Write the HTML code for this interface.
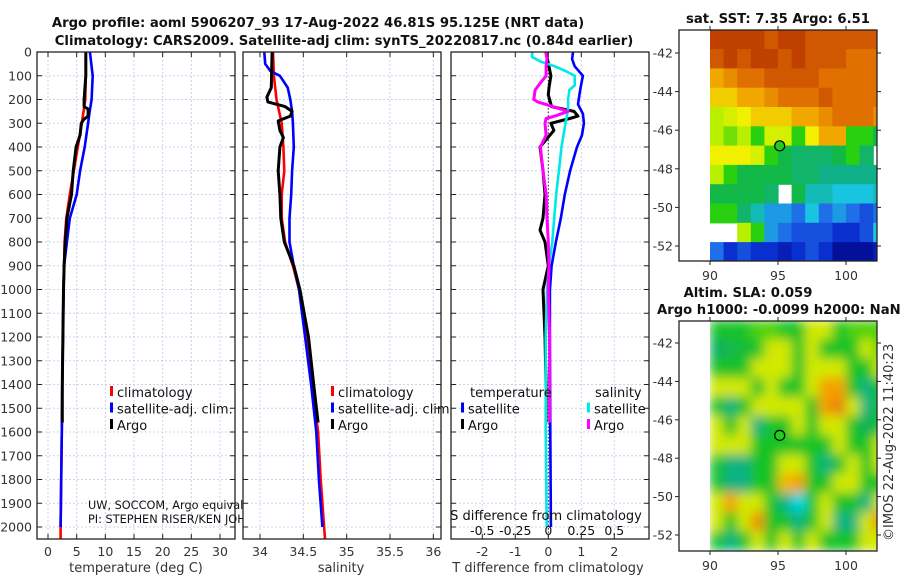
<!DOCTYPE html>
<html><head><meta charset="utf-8">
<style>
html,body{margin:0;padding:0;background:#fff;}
svg{display:block;font-family:"DejaVu Sans","Liberation Sans",sans-serif;}
</style></head>
<body>
<svg id="chart" width="900" height="580" viewBox="0 0 900 580" xmlns="http://www.w3.org/2000/svg">
<defs>
<filter id="blur" x="0" y="0" width="1" height="1"><feGaussianBlur stdDeviation="5.5" edgeMode="duplicate"/></filter>
<clipPath id="clipSST"><rect x="710" y="30" width="167" height="231"/></clipPath>
<clipPath id="clipSLA"><rect x="710" y="321" width="167" height="230"/></clipPath>
<clipPath id="clipP1"><rect x="37" y="52" width="198" height="487"/></clipPath>
<clipPath id="clipP2"><rect x="243" y="52" width="198" height="487"/></clipPath>
<clipPath id="clipP3"><rect x="451" y="52" width="198" height="487"/></clipPath>
</defs>
<text x="318" y="27" text-anchor="middle" font-size="13.2" font-weight="bold" fill="#111">Argo profile: aoml 5906207_93 17-Aug-2022 46.81S 95.125E (NRT data)</text>
<text x="344" y="45" text-anchor="middle" font-size="13.2" font-weight="bold" fill="#111">Climatology: CARS2009. Satellite-adj clim: synTS_20220817.nc (0.84d earlier)</text>
<g id="layer"></g>
</svg>
<script>
// ---------- data ----------
const depthClimT = [0,100,200,300,400,500,600,700,800,900,1000,1200,1400,1600,1800,2000,2050];
const tempClim   = [6.6,6.6,6.5,5.9,5.2,4.5,3.8,3.2,2.9,2.8,2.7,2.6,2.5,2.4,2.3,2.2,2.2];
const depthSatT  = [0,100,200,260,300,400,500,600,700,800,900,1000,1200,1400,1600,1800,2000];
const tempSat    = [7.3,7.8,7.6,7.2,7.0,6.4,5.6,5.0,3.8,3.3,2.8,2.7,2.6,2.5,2.4,2.3,2.2];
const depthArgo  = [0,100,200,230,240,270,285,300,350,400,500,600,700,800,900,1000,1200,1400,1560];
const tempArgo   = [6.6,6.6,6.3,6.3,7.0,7.0,6.2,5.8,5.6,4.9,4.4,4.1,3.3,3.0,2.8,2.7,2.6,2.5,2.5];

const salClim    = [34.15,34.16,34.19,34.25,34.27,34.28,34.25,34.25,34.29,34.38,34.45,34.54,34.6,34.67,34.7,34.74,34.75];
const depthSatS  = [0,50,80,100,150,200,250,300,400,500,600,700,800,900,1000,1200,1400,1600,1800,2000];
const salSat     = [34.05,34.06,34.12,34.23,34.32,34.35,34.37,34.38,34.39,34.37,34.36,34.34,34.34,34.39,34.45,34.52,34.59,34.65,34.68,34.72];
const depthArgoS = [0,150,190,210,230,250,270,290,330,360,400,500,600,700,800,900,1000,1200,1400,1560];
const salArgo    = [34.14,34.13,34.08,34.09,34.29,34.37,34.35,34.21,34.23,34.27,34.23,34.21,34.23,34.24,34.28,34.39,34.46,34.56,34.62,34.67];

const depthDiff  = [0,30,60,100,150,200,220,260,300,350,400,500,600,700,800,900,1000,1200,1600,2000];
const dTSat      = [0.75,0.72,0.8,1.05,0.98,0.92,0.9,1.05,1.08,1.02,0.87,0.66,0.5,0.38,0.23,0.1,0.05,0.05,0.06,0.08];
const depthDTA   = [0,100,150,180,230,250,270,280,300,330,400,500,600,700,750,800,900,1000,1200,1400,1560];
const dTArgo     = [-0.07,0.08,0.02,0,0.1,0.78,0.9,0.65,0.08,0.17,-0.25,-0.16,-0.1,-0.16,-0.25,-0.1,0,-0.16,-0.1,-0.07,-0.07];
const depthDSS   = [0,20,40,60,80,100,140,160,200,240,300,400,500,600,700,800,900,1000,1200,1600,2000];
const dSSat      = [-0.12,-0.125,-0.06,0.05,0.13,0.2,0.2,0.16,0.15,0.15,0.13,0.1,0.08,0.06,0.045,0.03,0.005,-0.01,-0.02,-0.02,-0.012];
const depthDSA   = [0,30,60,100,130,160,200,210,230,250,270,280,300,350,400,500,600,700,800,900,1000,1200,1560];
const dSArgo     = [-0.02,-0.01,-0.017,-0.017,-0.06,-0.1,-0.11,-0.08,0.035,0.15,0.05,-0.017,-0.025,-0.017,-0.06,-0.04,-0.017,-0.01,0,0.005,0,0.01,0.01];

const depthTicks = [0,100,200,300,400,500,600,700,800,900,1000,1100,1200,1300,1400,1500,1600,1700,1800,1900,2000];
const tempTicks  = [0,5,10,15,20,25,30];
const salTicks   = [34,34.5,35,35.5,36];
const salTickLabels = ["34","34.5","35","35.5","36"];
const dTTicks    = [-2,-1,0,1,2];
const dSTicks    = [-0.5,-0.25,0,0.25,0.5];
const dSTickLabels = ["-0.5","-0.25","0","0.25","0.5"];
const lonTicks   = [90,95,100];
const latTicks   = [-42,-44,-46,-48,-50,-52];

const argoLon = 95.125, argoLat = -46.81;
const gridLon0 = 90, gridLat0 = -40.8;
const sstGrid = [
 [11,11,11,11,10.5,11,11,10.5,10.5,10.5,10.5,10.5,10.5],
 [10.5,11,10.5,11,11,10.5,11,10.5,10.5,10.5,10,10,10],
 [9,9.5,10,10,10.5,10.5,10.5,10.5,10,10,10,10,10],
 [8.5,8.5,9,9,9.5,10,10,10,10.5,10,10,10,10],
 [7,7.5,8,8.5,8.5,8.5,9,9,9.5,10,10,10,9.5],
 [7,6.5,7,6,7.5,7.5,6,8,9,9,6,6,5.5],
 [8,8,8,7.5,6,5.5,5,5,5,5.5,6,5,null],
 [7,6,5.5,5.5,5.5,5.5,5,5,4.5,4.5,4.5,4.5,4.5],
 [5.5,5.5,5.5,5.5,5,null,5.5,4,4,3.5,3.5,3.5,4],
 [6,6,5,4,3,3,2.5,3.5,2.5,3,2.5,2,2.5],
 [null,null,7,6,3,2.5,2,2,2,1.5,1.5,2,3.5],
 [2.5,1.5,2,1.5,1.5,1,1.5,2,1.5,0.5,0.5,0.5,1]
];
const slaGrid = [
 [-0.6,-0.6,-0.6,0,0,-0.6,-0.6,0.8,0.8,-0.6,0,0,0],
 [-1.2,-1,-0.8,-0.6,0.8,0.8,-0.6,0.8,-0.6,-0.6,-0.6,0.8,0],
 [-0.6,-0.6,-0.6,0.8,0.8,0.8,-0.6,0.8,0.8,0.8,-0.6,-0.6,0.8],
 [0.8,0.8,0.8,-0.6,0.8,-0.6,-0.6,0.8,1.6,1.6,-0.6,-1.5,-0.6],
 [-0.6,-1.5,-0.6,0.8,0.8,0.8,0.8,-0.6,1.6,2,0.8,-1.5,-0.6],
 [0.8,-0.6,0.8,-1.5,-0.6,-0.6,0.8,-0.6,0.8,0.8,-0.6,-1.2,-0.6],
 [0.8,0.8,0.8,-0.6,-0.6,-0.6,-0.6,-0.6,-0.6,0.8,-0.6,-0.6,0.8],
 [-0.6,-1.5,-1.5,-0.6,-0.6,0.8,0.8,-0.6,-1.5,-0.6,0.8,-0.6,0.8],
 [-0.6,-1.5,-1.5,-0.6,-0.6,1.4,1.6,-0.6,-0.6,0.8,0.8,-0.6,-0.6],
 [0.8,1.6,0.8,0.8,-0.6,-1.5,-2,-0.6,0.8,-0.6,-0.6,-1.5,0.8],
 [0.8,-0.6,0.8,1.8,-0.6,-0.6,-1.5,-0.6,0.8,-1.5,-1.5,0.8,1.8],
 [-0.6,-1.5,-0.6,0.8,-0.6,0.8,-0.6,0.8,-0.6,-0.6,-0.6,0.8,0.8]
];

// ---------- helpers ----------
const NS = "http://www.w3.org/2000/svg";
const layer = document.getElementById('layer');
function mk(tag, attrs, parent){
  const e = document.createElementNS(NS, tag);
  for (const k in attrs) e.setAttribute(k, attrs[k]);
  (parent||layer).appendChild(e);
  return e;
}
const Y0 = 52, KY = 0.2375;
function yDepth(d){ return Y0 + KY*d; }
const xTemp = v => 48 + 5.733*v;
const xSal  = v => 260 + 86.67*(v-34);
const xDT   = v => 548.3 + 33*v;
const xDS   = v => 548.3 + 132*v;
const xLon  = v => 710 + 13.6*(v-90);
const ySST  = v => 53 + 19.3*(-42 - v);
const ySLA  = v => 343 + 19.2*(-42 - v);

function interp(stops, v){
  if (v<=stops[0][0]) return 'rgb('+stops[0][1].join(',')+')';
  for (let i=1;i<stops.length;i++){
    if (v<=stops[i][0]){
      const [a,ca]=stops[i-1],[b,cb]=stops[i]; const t=(v-a)/(b-a);
      return 'rgb('+[0,1,2].map(j=>Math.round(ca[j]+(cb[j]-ca[j])*t)).join(',')+')';
    }
  }
  const c=stops[stops.length-1][1]; return 'rgb('+c.join(',')+')';
}
const sstStops=[[0,[0,0,127]],[1.5,[10,47,208]],[2.5,[31,111,232]],[3.5,[25,196,224]],[4.5,[15,176,138]],[5.5,[18,184,72]],[6,[40,208,16]],[7,[184,240,0]],[8,[240,240,0]],[9,[240,168,0]],[10,[224,112,0]],[11,[192,64,0]]];
const slaStops=[[-2,[0,215,230]],[-1.4,[10,170,110]],[-0.6,[25,195,40]],[0,[80,210,10]],[0.5,[170,230,0]],[1.0,[235,235,0]],[1.6,[245,160,0]],[2.2,[225,110,10]]];

// ---------- profile panels ----------
function panel(x0, name){
  const g = mk('g',{});
  
  
  mk('rect',{x:x0,y:52,width:198,height:487,fill:'#fff'},g);
  return g;
}
function hgrid(g,x0){
  depthTicks.forEach(d=>{
    const l=mk('line',{x1:x0,x2:x0+198,y1:yDepth(d),y2:yDepth(d),stroke:'#cdd0f0','stroke-width':1,'stroke-dasharray':'2,2'},g);
    
    
  });
}
function vgrid(g,ticks,fx){
  ticks.forEach(t=>{
    const l=mk('line',{x1:fx(t),x2:fx(t),y1:52,y2:539,stroke:'#cdd0f0','stroke-width':1,'stroke-dasharray':'2,2'},g);
    
    
  });
}
function frame(g,x0){
  const r=mk('rect',{x:x0,y:52,width:198,height:487,fill:'none',stroke:'#222','stroke-width':1.3},g);
  
  
  depthTicks.forEach(d=>{
    mk('line',{x1:x0,x2:x0+5,y1:yDepth(d),y2:yDepth(d),stroke:'#222'},g);
    mk('line',{x1:x0+198-5,x2:x0+198,y1:yDepth(d),y2:yDepth(d),stroke:'#222'},g);
  });
}
function xticks(g,ticks,labels,fx){
  ticks.forEach((t,i)=>{
    mk('line',{x1:fx(t),x2:fx(t),y1:539,y2:534,stroke:'#222'},g);
    mk('line',{x1:fx(t),x2:fx(t),y1:52,y2:57,stroke:'#222'},g);
    const tx=mk('text',{x:fx(t),y:556,'text-anchor':'middle','font-size':12.5,fill:'#333'},g);
    tx.textContent=labels[i];
    
    
  });
}
function line(g,ds,vs,fx,color,w,name,clip){
  const pts=ds.map((d,i)=>fx(vs[i]).toFixed(1)+','+yDepth(d).toFixed(1)).join(' ');
  const p=mk('polyline',{points:pts,fill:'none',stroke:color,'stroke-width':w,'stroke-linejoin':'round','clip-path':'url(#'+clip+')'},g);
  
  
}
function legend(g,x,y,items){
  items.forEach((it,i)=>{
    mk('rect',{x:x,y:y+i*16.5-11,width:3,height:10,fill:it[1]},g);
    const t=mk('text',{x:x+7,y:y+i*16.5,'font-size':13,fill:'#111'},g);
    t.textContent=it[0];
    
    
  });
}

// Panel 1 temperature
const g1=panel(37,'temperature-panel');
hgrid(g1,37); vgrid(g1,tempTicks,xTemp);
line(g1,depthClimT,tempClim,xTemp,'#ff0000',2.6,'temp-climatology-line','clipP1');
line(g1,depthSatT,tempSat,xTemp,'#0000ff',2.6,'temp-satellite-line','clipP1');
line(g1,depthArgo,tempArgo,xTemp,'#000',3,'temp-argo-line','clipP1');
legend(g1,110,397,[['climatology','#ff0000'],['satellite-adj. clim.','#0000ff'],['Argo','#000']]);
{const t=mk('text',{x:88,y:509,'font-size':11.3,fill:'#111'},g1);t.textContent='UW, SOCCOM, Argo equivalent';

const t2=mk('text',{x:88,y:523,'font-size':11.3,fill:'#111'},g1);t2.textContent='PI: STEPHEN RISER/KEN JOHNSON';
}
frame(g1,37);
xticks(g1,tempTicks,tempTicks.map(String),xTemp);
depthTicks.forEach(d=>{const t=mk('text',{x:32,y:yDepth(d)+4.5,'text-anchor':'end','font-size':12.5,fill:'#333'},g1);t.textContent=d;
});
{const t=mk('text',{x:136,y:572,'text-anchor':'middle','font-size':13,fill:'#333'},g1);t.textContent='temperature (deg C)';
}

// Panel 2 salinity
const g2=panel(243,'salinity-panel');
hgrid(g2,243); vgrid(g2,salTicks,xSal);
line(g2,depthClimT,salClim,xSal,'#ff0000',2.6,'sal-climatology-line','clipP2');
line(g2,depthSatS,salSat,xSal,'#0000ff',2.6,'sal-satellite-line','clipP2');
line(g2,depthArgoS,salArgo,xSal,'#000',3,'sal-argo-line','clipP2');
legend(g2,331,397,[['climatology','#ff0000'],['satellite-adj. clim.','#0000ff'],['Argo','#000']]);
frame(g2,243);
xticks(g2,salTicks,salTickLabels,xSal);
{const t=mk('text',{x:341,y:572,'text-anchor':'middle','font-size':13,fill:'#333'},g2);t.textContent='salinity';
}

// Panel 3 differences
const g3=panel(451,'difference-panel');
hgrid(g3,451); vgrid(g3,dTTicks,xDT);
mk('line',{x1:xDT(0),x2:xDT(0),y1:52,y2:539,stroke:'#333','stroke-width':1,'stroke-dasharray':'1.5,2'},g3);
line(g3,depthDiff,dTSat,xDT,'#0000ff',2.6,'dtemp-satellite-line','clipP3');
line(g3,depthDTA,dTArgo,xDT,'#000',3,'dtemp-argo-line','clipP3');
line(g3,depthDSS,dSSat,xDS,'#00e8e8',2.6,'dsal-satellite-line','clipP3');
line(g3,depthDSA,dSArgo,xDS,'#ff00ff',3,'dsal-argo-line','clipP3');
{const t=mk('text',{x:470,y:397,'font-size':13,fill:'#111'},g3);t.textContent='temperature';

const t2=mk('text',{x:595,y:397,'font-size':13,fill:'#111'},g3);t2.textContent='salinity';
}
legend(g3,461,413.5,[['satellite','#0000ff'],['Argo','#000']]);
legend(g3,587,413.5,[['satellite','#00e8e8'],['Argo','#ff00ff']]);
{const t=mk('text',{x:546,y:520,'text-anchor':'middle','font-size':13,fill:'#111'},g3);t.textContent='S difference from climatology';
}
dSTicks.forEach((v,i)=>{const t=mk('text',{x:xDS(v),y:535,'text-anchor':'middle','font-size':12.5,fill:'#111'},g3);t.textContent=dSTickLabels[i];
});
frame(g3,451);
xticks(g3,dTTicks,dTTicks.map(String),xDT);
{const t=mk('text',{x:548,y:572,'text-anchor':'middle','font-size':13,fill:'#333'},g3);t.textContent='T difference from climatology';
}

// ---------- maps ----------
function map(grid,stops,fy,clip,yTop,yBot,name,blur){
  const g=mk('g',{});
  
  
  const cg=mk('g',{'clip-path':'url(#'+clip+')'},g);
  const inner=mk('g',blur?{filter:'url(#blur)'}:{},cg);
  grid.forEach((row,r)=>row.forEach((v,c)=>{
    if(v===null) return;
    const x1=xLon(gridLon0+c), x2=xLon(gridLon0+c+1);
    const y1=fy(gridLat0-r), y2=fy(gridLat0-r-1);
    const cell=mk('rect',{x:x1.toFixed(1),y:y1.toFixed(1),width:(x2-x1+0.6).toFixed(1),height:(y2-y1+0.6).toFixed(1),fill:interp(stops,v)},inner);
    
    
  }));
  const fr=mk('rect',{x:679,y:yTop,width:198,height:yBot-yTop,fill:'none',stroke:'#222','stroke-width':1.3},g);
  
  
  lonTicks.forEach(v=>{
    mk('line',{x1:xLon(v),x2:xLon(v),y1:yBot,y2:yBot+4,stroke:'#222'},g);
    mk('line',{x1:xLon(v),x2:xLon(v),y1:yTop,y2:yTop-4,stroke:'#222'},g);
    const t=mk('text',{x:xLon(v),y:yBot+19,'text-anchor':'middle','font-size':12.5,fill:'#333'},g);t.textContent=v;
    
  });
  latTicks.forEach(v=>{
    mk('line',{x1:679,x2:675,y1:fy(v),y2:fy(v),stroke:'#222'},g);
    mk('line',{x1:877,x2:881,y1:fy(v),y2:fy(v),stroke:'#222'},g);
    const t=mk('text',{x:673,y:fy(v)+4.5,'text-anchor':'end','font-size':12.5,fill:'#333'},g);t.textContent=v;
    
  });
  const m=mk('circle',{cx:xLon(argoLon),cy:fy(argoLat),r:5,fill:'#22cc22',stroke:'#000','stroke-width':1.2},g);
  
  
  return g;
}
map(sstGrid,sstStops,ySST,'clipSST',30,261,'sst-map',false);
map(slaGrid,slaStops,ySLA,'clipSLA',321,551,'sla-map',true);

{const t=mk('text',{x:778,y:23,'text-anchor':'middle','font-size':13.2,'font-weight':'bold',fill:'#111'});t.textContent='sat. SST: 7.35 Argo: 6.51';

const t2=mk('text',{x:748,y:297,'text-anchor':'middle','font-size':13.2,'font-weight':'bold',fill:'#111'});t2.textContent='Altim. SLA: 0.059';

const t3=mk('text',{x:657,y:314,'font-size':13.2,'font-weight':'bold',fill:'#111'});t3.textContent='Argo h1000: -0.0099 h2000: NaN';

const t4=mk('text',{x:0,y:0,'font-size':13,fill:'#333',transform:'translate(893,541) rotate(-90)'});t4.textContent='©IMOS 22-Aug-2022 11:40:23';
}
</script>
</body></html>
